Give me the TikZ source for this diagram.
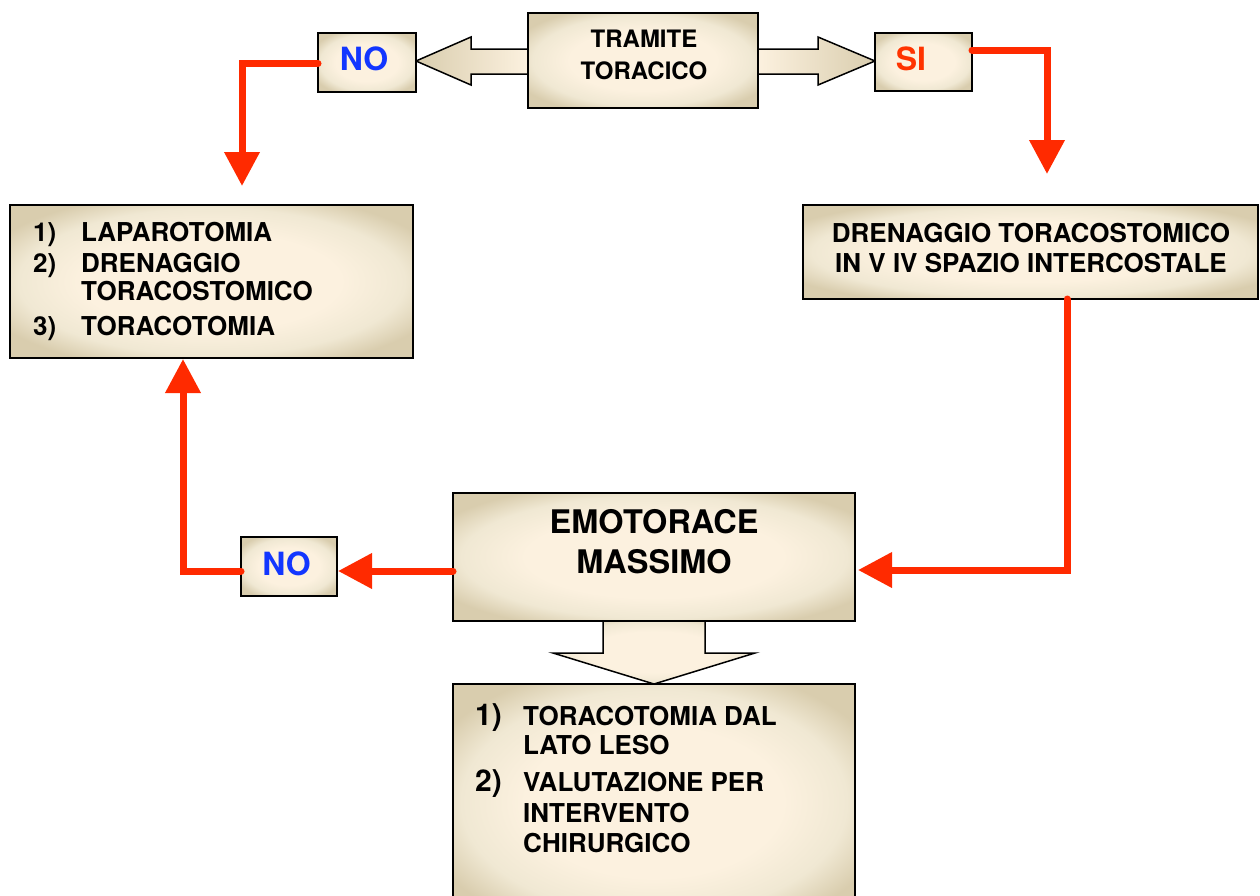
\documentclass[tikz,border=0pt]{standalone}
\usepackage{fontspec}
\setmainfont{TeX Gyre Heros}
\usetikzlibrary{arrows.meta}
\definecolor{cin}{HTML}{FCF1DF}
\definecolor{cmid}{HTML}{F0E8D3}
\definecolor{cout}{HTML}{D9CDAE}
\definecolor{flowred}{HTML}{FF2A00}
\definecolor{noblue}{HTML}{1236FF}
\definecolor{sired}{HTML}{FF3300}
\pgfdeclareradialshading{boxshade}{\pgfpoint{0bp}{0bp}}{color(0bp)=(cin); color(16bp)=(cin); color(24bp)=(cmid); color(30bp)=(cout); color(36bp)=(cout)}
\tikzset{
  box/.style={rectangle, draw=black, line width=2pt, shading=boxshade, inner sep=0pt, outer sep=0pt},
  barrow/.style={draw=black, line width=1.5pt, line join=miter},
  flow/.style={draw=flowred, line width=7pt, line cap=round, line join=miter, -{Triangle[length=34pt,width=34pt]}},
  txt/.style={inner sep=0pt, font=\fontsize{26}{30}\selectfont\bfseries},
  bigtxt/.style={inner sep=0pt, font=\fontsize{32}{32}\selectfont\bfseries}
}
\begin{document}
\begin{tikzpicture}[x=1pt,y=-1pt]
\useasboundingbox (0,0) rectangle (1260,895);
\clip (0,0) rectangle (1260,895);
% block arrows
\draw[barrow, left color=cout, right color=cin] (528,49) -- (471,49) -- (471,37) -- (416,61) -- (471,85) -- (471,74) -- (528,74);
\draw[barrow, left color=cin, right color=cout] (758,49) -- (818,49) -- (818,37) -- (875,61) -- (818,85) -- (818,74) -- (758,74);
\draw[barrow, shading=boxshade] (603,620) -- (603,653) -- (553,653) -- (654,684) -- (755,653) -- (705,653) -- (705,620);
% boxes
\node[box, minimum width=230pt, minimum height=95pt] (tram) at (643,60.5) {};
\node[box, minimum width=98pt, minimum height=59pt] (topno) at (367,62.5) {};
\node[box, minimum width=97pt, minimum height=58pt] (si) at (923.5,62) {};
\node[box, minimum width=403pt, minimum height=153pt] (lbox) at (211.5,281.5) {};
\node[box, minimum width=455pt, minimum height=94pt] (dren) at (1030.5,252) {};
\node[box, minimum width=402pt, minimum height=128pt] (emo) at (654,557) {};
\node[box, minimum width=96pt, minimum height=59pt] (botno) at (289,566.5) {};
\node[box, minimum width=402pt, minimum height=236pt] (bot) at (654,802) {};
% texts
\node[txt, anchor=base] (tramt) at (644,47) {\fontsize{24}{32}\selectfont\begin{tabular}[t]{@{}c@{}}TRAMITE\\TORACICO\end{tabular}};
\node[bigtxt, anchor=base, text=noblue] (topnot) at (364,70) {NO};
\node[bigtxt, anchor=base, text=sired] (sit) at (911,70) {SI};
\node[bigtxt, anchor=base, text=noblue] (botnot) at (286.5,575) {NO};
\node[txt, anchor=base west] (lboxt) at (33,241) {\begin{tabular}[t]{@{}l@{}}\makebox[48pt][l]{1)}LAPAROTOMIA\\[1pt]
\makebox[48pt][l]{2)}DRENAGGIO\\[-2pt]
\makebox[48pt][l]{}TORACOSTOMICO\\[5pt]
\makebox[48pt][l]{3)}TORACOTOMIA\end{tabular}};
\node[txt, anchor=base] (drent) at (1031,242) {\begin{tabular}[t]{@{}c@{}}DRENAGGIO TORACOSTOMICO\\IN V IV SPAZIO INTERCOSTALE\end{tabular}};
\node[txt, anchor=base, font=\fontsize{32.5}{40}\selectfont\bfseries] (emot) at (654,533) {\begin{tabular}[t]{@{}c@{}}EMOTORACE\\MASSIMO\end{tabular}};
\node[txt, anchor=base west] (bott) at (475,725) {\begin{tabular}[t]{@{}l@{}}\makebox[48pt][l]{\fontsize{30}{30}\selectfont 1)}TORACOTOMIA DAL\\[-1pt]
\makebox[48pt][l]{}LATO LESO\\[7pt]
\makebox[48pt][l]{\fontsize{30}{30}\selectfont 2)}VALUTAZIONE PER\\[1pt]
\makebox[48pt][l]{}INTERVENTO\\
\makebox[48pt][l]{}CHIRURGICO\end{tabular}};
% connectors
\coordinate (c1) at (242,186);
\coordinate (c2) at (1047,174);
\coordinate (c3) at (1067,570);
\coordinate (y4) at (0,571);
\coordinate (c5) at (183,0);
\draw[flow] ([yshift=-1pt]topno.west) -| (c1);
\draw[flow] ([yshift=12pt]si.east) -| (c2);
\draw[flow] (c3 |- dren.south) -- (c3) -- ([xshift=3pt]emo.east |- c3);
\draw[flow] (emo.west |- y4) -- ([xshift=1pt]botno.east |- y4);
\draw[flow] (botno.west |- y4) -| ([yshift=-1pt]c5 |- lbox.south);
\end{tikzpicture}
\end{document}
